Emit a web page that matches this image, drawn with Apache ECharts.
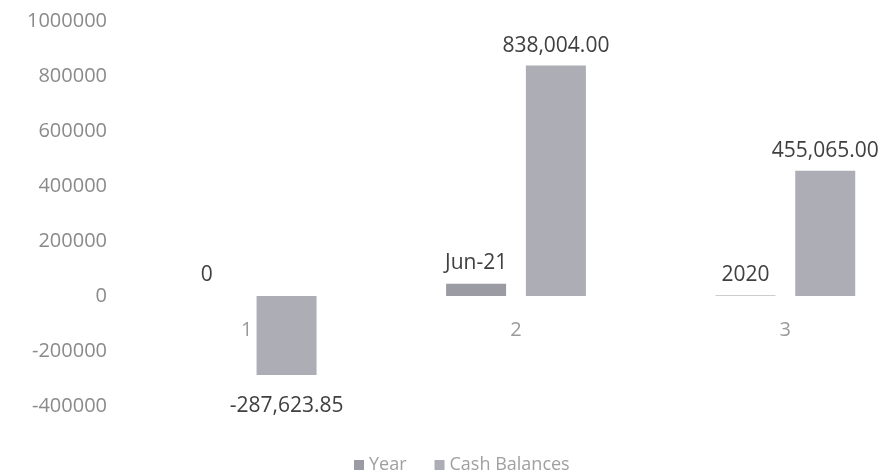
<!DOCTYPE html>
<html>
<head>
<meta charset="utf-8">
<script src="https://cdn.jsdelivr.net/npm/echarts@6/dist/echarts.min.js"></script>
<style>html,body{margin:0;padding:0;background:#fff}#c{width:889px;height:475px}</style>
</head>
<body>
<div id="c"></div>
<script>
const categories = ['1', '2', '3'];
const yearValues = [0, 44348, 2020];
const yearLabels = ['0', 'Jun-21', '2020'];
const cashValues = [-287623.85, 838004.00, 455065.00];
const yTicks = [-400000, -200000, 0, 200000, 400000, 600000, 800000, 1000000];

const fmt = v => v.toLocaleString('en-US', {minimumFractionDigits: 2, maximumFractionDigits: 2});
const FONT = 'Open Sans';

const chart = echarts.init(document.getElementById('c'));
chart.setOption({
  animation: false,
  textStyle: {fontFamily: FONT},
  grid: {left: 112, top: 21, width: 808, height: 385, containLabel: false, outerBoundsMode: 'none'},
  legend: {
    top: 451, left: 349,
    itemWidth: 10, itemHeight: 10, itemGap: 28,
    icon: 'rect',
    textStyle: {fontFamily: FONT, fontSize: 18, color: '#a0a0a0'},
    data: ['Year', 'Cash Balances']
  },
  xAxis: {
    type: 'category', data: categories, offset: -110,
    axisLine: {show: false, onZero: false}, axisTick: {show: false},
    axisLabel: {margin: 24, fontSize: 20, color: '#9a9a9a', fontFamily: FONT}
  },
  yAxis: {
    type: 'value', min: yTicks[0], max: yTicks[yTicks.length - 1], interval: 200000,
    axisLine: {show: false}, axisTick: {show: false}, splitLine: {show: false},
    axisLabel: {margin: 5, fontSize: 20, color: '#8a8a8a', fontFamily: FONT, formatter: v => String(v)}
  },
  series: [
    {
      name: 'Year', type: 'bar', barWidth: 60, barGap: '33%',
      itemStyle: {color: '#9b9ba3'},
      label: {show: true, position: 'top', distance: 10, fontSize: 21, color: '#404040',
        fontFamily: FONT, formatter: p => yearLabels[p.dataIndex]},
      data: yearValues
    },
    {
      name: 'Cash Balances', type: 'bar', barWidth: 60,
      itemStyle: {color: '#adadb5'},
      label: {show: true, fontSize: 21, color: '#404040', fontFamily: FONT,
        formatter: p => fmt(p.value)},
      data: cashValues.map(v => ({value: v, label: {position: v < 0 ? 'bottom' : 'top', distance: v < 0 ? 20 : 9}}))
    }
  ]
});
</script>
</body>
</html>
